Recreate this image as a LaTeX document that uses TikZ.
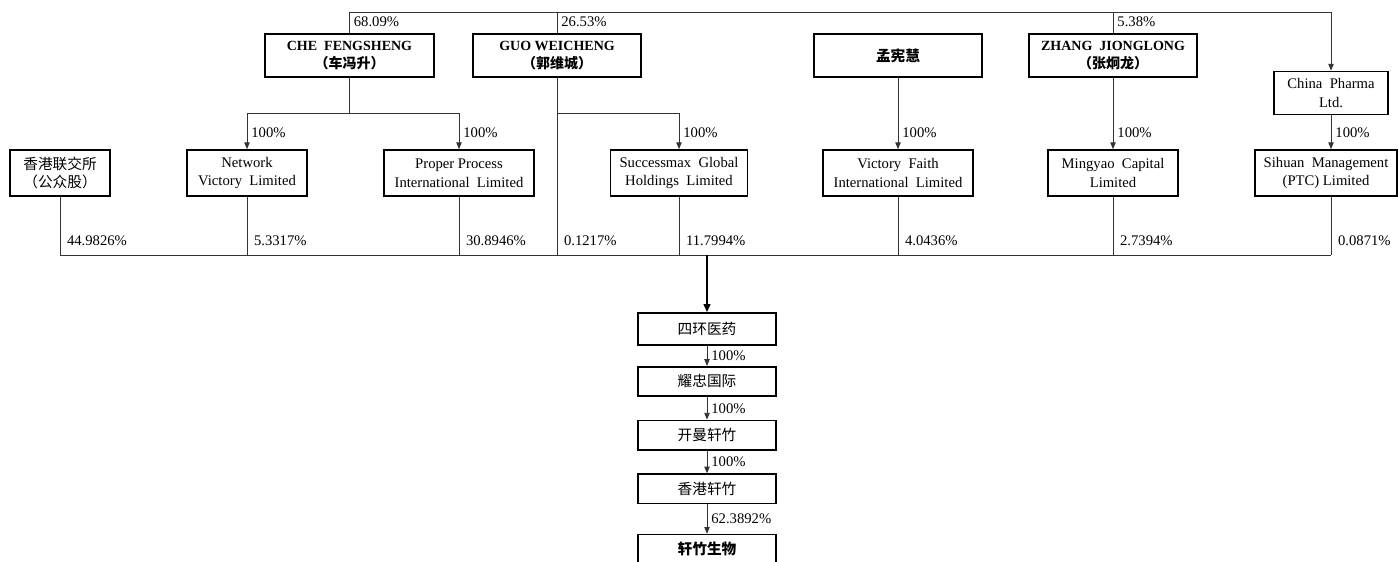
\documentclass[tikz,border=0pt]{standalone}
\usepackage{fontspec}
\setmainfont{Liberation Serif}
\newfontfamily\cjk{Noto Sans CJK SC}
\usetikzlibrary{positioning,arrows.meta}

\begin{document}
\begin{tikzpicture}[x=0.75pt,y=-0.75pt,
	box/.style = {draw, line width=1.3pt, align=center, inner sep=1pt, minimum height=34.5pt, font=\fontsize{11}{14}\selectfont},
	person/.style = {box, minimum width=126.5pt, minimum height=32.25pt, font=\fontsize{10.5}{14}\selectfont\bfseries},
	col/.style = {draw, line width=1.3pt, minimum width=103.5pt, minimum height=22pt, inner sep=0pt, font=\cjk\fontsize{11}{13}\selectfont},
	link/.style = {draw=black!80, line width=0.6pt},
	arr/.style = {link, -{Triangle[length=5pt,width=4pt]}},
	bigarr/.style = {draw=black, line width=1.4pt, -{Triangle[length=6pt,width=5pt]}},
	pct/.style = {anchor=west, inner sep=0pt, xshift=3pt, font=\fontsize{11}{13}\selectfont}]
	\useasboundingbox (0,0) rectangle (1398,561);
	
	% shareholders
	\node[person] (che) at (349.5,55.5) {CHE~ FENGSHENG\\{\cjk （车冯升）}};
	\node[person] (guo) at (557,55.5) {GUO WEICHENG\\{\cjk （郭维城）}};
	\node[person, font=\cjk\fontsize{11}{14}\selectfont\bfseries] (meng) at (898,55.5) {孟宪慧};
	\node[person] (zhang) at (1113,55.5) {ZHANG~ JIONGLONG\\{\cjk （张炯龙）}};
	\node[box, minimum width=85.5pt, minimum height=32.25pt] (pharma) at (1331,93) {China~ Pharma\\Ltd.};
	
	% holding companies
	\node[box, minimum width=75pt, font=\cjk\fontsize{11}{14}\selectfont] (hkex) at (60,173) {香港联交所\\（公众股）};
	\node[box, minimum width=90pt] (network) at (247,173) {Network\\Victory~ Limited};
	\node[box, minimum width=112.5pt] (proper) at (459,173) {Proper Process\\International~ Limited};
	\node[box, minimum width=102.75pt] (succ) at (679,173) {Successmax~ Global\\Holdings~ Limited};
	\node[box, minimum width=112.5pt] (faith) at (898,173) {Victory~ Faith\\International~ Limited};
	\node[box, minimum width=97.5pt] (mingyao) at (1113,173) {Mingyao~ Capital\\Limited};
	\node[box, minimum width=106.5pt] (sihuan) at (1326,173) {Sihuan~ Management\\(PTC) Limited};
	
	% chain below
	\node[col, minimum height=24pt] (syy) at (707,329) {四环医药};
	\node[col, below=15pt of syy] (yaozhong) {耀忠国际};
	\node[col, below=17pt of yaozhong] (kaiman) {开曼轩竹};
	\node[col, below=17pt of kaiman] (hkxz) {香港轩竹};
	\node[col, below=22pt of hkxz, font=\cjk\fontsize{11}{13}\selectfont\bfseries] (xzsw) {轩竹生物};
	
	\coordinate (topR) at (1331,12);
	\coordinate (split) at (350,113);
	\coordinate (bar) at (707,255);
	
	% top line
	\draw[link] (che.north) |- node[pct, pos=0.27] (p1) {68.09\%} (topR);
	\draw[link] (guo.north) -- node[pct, pos=0.55] (p2) {26.53\%} (guo.north |- topR);
	\draw[link] (zhang.north) -- node[pct, pos=0.55] (p3) {5.38\%} (zhang.north |- topR);
	\draw[arr] (topR) -- (pharma.north);
	
	% 100% links
	\draw[link] (che.south) -- (che.south |- split);
	\draw[arr] (che.south |- split) -| node[pct, pos=0.77] (q1) {100\%} (network.north);
	\draw[arr] (che.south |- split) -| node[pct, pos=0.77] (q2) {100\%} (proper.north);
	\draw[arr] (guo.south |- split) -| node[pct, pos=0.77] (q3) {100\%} (succ.north);
	\draw[arr] (meng.south) -- node[pct, pos=0.77] (q4) {100\%} (faith.north);
	\draw[arr] (zhang.south) -- node[pct, pos=0.77] (q5) {100\%} (mingyao.north);
	\draw[arr] (pharma.south) -- node[pct, pos=0.51] (q6) {100\%} (pharma.south |- sihuan.north);
	
	% bottom bar
	\draw[link] (hkex.south |- bar) -- (pharma.south |- bar);
	\foreach \n/\v in {hkex/44.9826, network/5.3317, proper/30.8946, succ/11.7994, faith/4.0436, mingyao/2.7394}
		\draw[link] (\n.south) -- node[pct, pos=0.76, xshift=2pt] (p\n) {\v\%} (\n.south |- bar);
	\draw[link] (guo.south) -- node[pct, pos=0.92, xshift=2pt] (pguo) {0.1217\%} (guo.south |- bar);
	\draw[link] (pharma.south |- sihuan.south) -- node[pct, pos=0.76, xshift=2pt] (psihuan) {0.0871\%} (pharma.south |- bar);
	\draw[bigarr] (bar) -- (syy.north);
	
	\draw[arr] (syy.south) -- node[pct] (r1) {100\%} (yaozhong.north);
	\draw[arr] (yaozhong.south) -- node[pct] (r2) {100\%} (kaiman.north);
	\draw[arr] (kaiman.south) -- node[pct] (r3) {100\%} (hkxz.north);
	\draw[arr] (hkxz.south) -- node[pct] (r4) {62.3892\%} (xzsw.north);
\end{tikzpicture}
\end{document}
